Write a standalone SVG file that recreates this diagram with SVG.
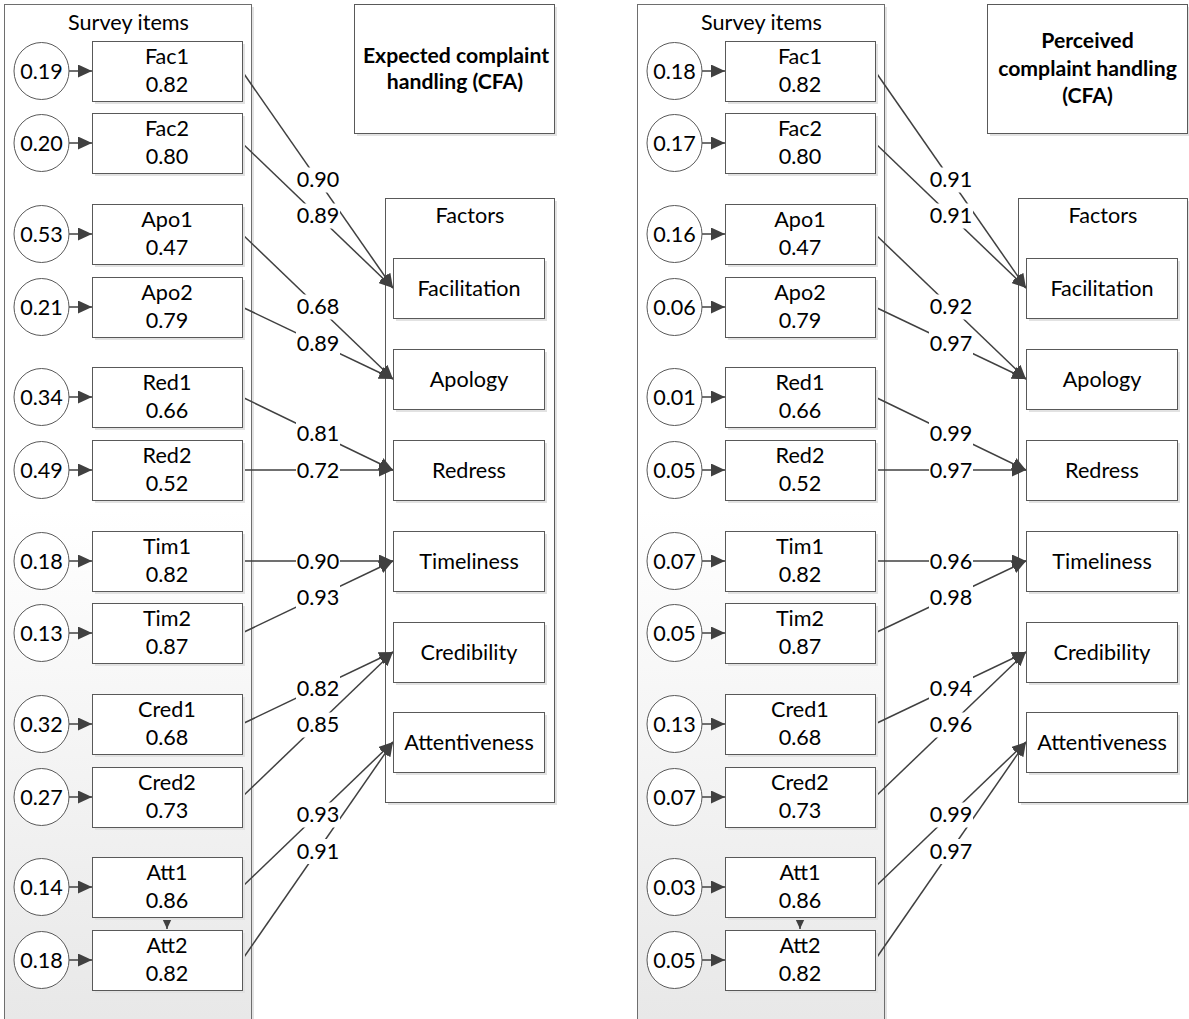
<svg xmlns="http://www.w3.org/2000/svg" width="1189" height="1019" viewBox="0 0 1189 1019">
  <defs>
    <linearGradient id="fade" gradientUnits="userSpaceOnUse" x1="0" y1="0" x2="0" y2="1019">
      <stop offset="0" stop-color="#ffffff"/>
      <stop offset="0.5" stop-color="#ffffff"/>
      <stop offset="1" stop-color="#e8e8e8"/>
    </linearGradient>
    <marker id="ah" markerUnits="userSpaceOnUse" viewBox="0 0 14 13" refX="14" refY="6.5" markerWidth="14" markerHeight="13" orient="auto">
      <path d="M0,0 L14,6.5 L0,13 z" fill="#404040"/>
    </marker>
  </defs>
  <style>
    .box { fill: #ffffff; stroke: #595959; stroke-width: 1; }
    .shd { fill: #e2e2e2; }
    .err { fill: #ffffff; stroke: #595959; stroke-width: 1; }
    .pane { fill: url(#fade); stroke: #6e6e6e; stroke-width: 1; }
    .ln { stroke: #404040; stroke-width: 1.5; fill: none; marker-end: url(#ah); }
    .lb { fill: #ffffff; }
    text { font-family: Lato, Carlito, "Liberation Sans", sans-serif; font-size: 21.6px; fill: #000000; text-anchor: middle; }
    .hd { font-weight: bold; font-size: 21.2px; }
  </style>

  <rect width="1189" height="1019" fill="#ffffff"/>

  <!-- ===== Expected complaint handling ===== -->
  <g id="expected">
    <g id="survey-items-e">
      <rect class="shd" x="7" y="7" width="247" height="1040"/>
      <rect class="pane" x="4.5" y="4.5" width="247" height="1040"/>
      <text x="128.5" y="30">Survey items</text>
    </g>
    <g id="title-e">
      <rect class="shd" x="357" y="7" width="200" height="129"/>
      <rect class="box" x="354.5" y="4.5" width="200" height="129"/>
      <text class="hd" x="456" y="63">Expected complaint</text>
      <text class="hd" x="455" y="89">handling (CFA)</text>
    </g>
    <g id="factors-e">
      <rect class="shd" x="388" y="201" width="169" height="604"/>
      <rect class="box" x="385.5" y="198.5" width="169" height="604"/>
      <text x="470" y="223">Factors</text>
    </g>

    <g id="connectors-e">
      <!-- error terms into items -->
      <line class="ln" x1="69" y1="71" x2="92" y2="71"/>
      <line class="ln" x1="69" y1="143" x2="92" y2="143"/>
      <line class="ln" x1="69" y1="234" x2="92" y2="234"/>
      <line class="ln" x1="69" y1="307" x2="92" y2="307"/>
      <line class="ln" x1="69" y1="397" x2="92" y2="397"/>
      <line class="ln" x1="69" y1="470" x2="92" y2="470"/>
      <line class="ln" x1="69" y1="561" x2="92" y2="561"/>
      <line class="ln" x1="69" y1="633" x2="92" y2="633"/>
      <line class="ln" x1="69" y1="724" x2="92" y2="724"/>
      <line class="ln" x1="69" y1="797" x2="92" y2="797"/>
      <line class="ln" x1="69" y1="887" x2="92" y2="887"/>
      <line class="ln" x1="69" y1="960" x2="92" y2="960"/>
      <!-- Att1 to Att2 -->
      <line class="ln" x1="167" y1="912" x2="167" y2="929"/>
      <!-- items to factors -->
      <line class="ln" x1="242" y1="71" x2="393" y2="288"/>
      <line class="ln" x1="242" y1="143" x2="393" y2="288"/>
      <line class="ln" x1="242" y1="234" x2="393" y2="379"/>
      <line class="ln" x1="242" y1="307" x2="393" y2="379"/>
      <line class="ln" x1="242" y1="397" x2="393" y2="470"/>
      <line class="ln" x1="242" y1="470" x2="393" y2="470"/>
      <line class="ln" x1="242" y1="561" x2="393" y2="561"/>
      <line class="ln" x1="242" y1="633" x2="393" y2="561"/>
      <line class="ln" x1="242" y1="724" x2="393" y2="652"/>
      <line class="ln" x1="242" y1="797" x2="393" y2="652"/>
      <line class="ln" x1="242" y1="887" x2="393" y2="742"/>
      <line class="ln" x1="242" y1="960" x2="393" y2="742"/>
      <!-- loadings -->
      <rect class="lb" x="296" y="167.5" width="44" height="25"/><text x="318" y="187">0.90</text>
      <rect class="lb" x="296" y="203.5" width="44" height="25"/><text x="318" y="223">0.89</text>
      <rect class="lb" x="296" y="294.5" width="44" height="25"/><text x="318" y="314">0.68</text>
      <rect class="lb" x="296" y="331" width="44" height="25"/><text x="318" y="350.5">0.89</text>
      <rect class="lb" x="296" y="421.5" width="44" height="25"/><text x="318" y="441">0.81</text>
      <rect class="lb" x="296" y="458" width="44" height="25"/><text x="318" y="477.5">0.72</text>
      <rect class="lb" x="296" y="549" width="44" height="25"/><text x="318" y="568.5">0.90</text>
      <rect class="lb" x="296" y="585" width="44" height="25"/><text x="318" y="604.5">0.93</text>
      <rect class="lb" x="296" y="676" width="44" height="25"/><text x="318" y="695.5">0.82</text>
      <rect class="lb" x="296" y="712.5" width="44" height="25"/><text x="318" y="732">0.85</text>
      <rect class="lb" x="296" y="802.5" width="44" height="25"/><text x="318" y="822">0.93</text>
      <rect class="lb" x="296" y="839" width="44" height="25"/><text x="318" y="858.5">0.91</text>
    </g>

    <!-- factor nodes -->
    <g id="facilitation-e"><rect class="shd" x="396" y="261" width="151" height="60"/><rect class="box" x="393.5" y="258.5" width="151" height="60"/><text x="469" y="295.5">Facilitation</text></g>
    <g id="apology-e"><rect class="shd" x="396" y="352" width="151" height="60"/><rect class="box" x="393.5" y="349.5" width="151" height="60"/><text x="469" y="386.5">Apology</text></g>
    <g id="redress-e"><rect class="shd" x="396" y="443" width="151" height="60"/><rect class="box" x="393.5" y="440.5" width="151" height="60"/><text x="469" y="477.5">Redress</text></g>
    <g id="timeliness-e"><rect class="shd" x="396" y="534" width="151" height="60"/><rect class="box" x="393.5" y="531.5" width="151" height="60"/><text x="469" y="568.5">Timeliness</text></g>
    <g id="credibility-e"><rect class="shd" x="396" y="625" width="151" height="60"/><rect class="box" x="393.5" y="622.5" width="151" height="60"/><text x="469" y="659.5">Credibility</text></g>
    <g id="attentiveness-e"><rect class="shd" x="396" y="715" width="151" height="60"/><rect class="box" x="393.5" y="712.5" width="151" height="60"/><text x="469" y="749.5">Attentiveness</text></g>

    <!-- survey item nodes -->
    <g id="fac1-e"><rect class="shd" x="95" y="44" width="150" height="60"/><rect class="box" x="92.5" y="41.5" width="150" height="60"/><text x="167" y="64">Fac1</text><text x="167" y="92">0.82</text></g>
    <g id="fac2-e"><rect class="shd" x="95" y="116" width="150" height="60"/><rect class="box" x="92.5" y="113.5" width="150" height="60"/><text x="167" y="136">Fac2</text><text x="167" y="164">0.80</text></g>
    <g id="apo1-e"><rect class="shd" x="95" y="207" width="150" height="60"/><rect class="box" x="92.5" y="204.5" width="150" height="60"/><text x="167" y="227">Apo1</text><text x="167" y="255">0.47</text></g>
    <g id="apo2-e"><rect class="shd" x="95" y="280" width="150" height="60"/><rect class="box" x="92.5" y="277.5" width="150" height="60"/><text x="167" y="300">Apo2</text><text x="167" y="328">0.79</text></g>
    <g id="red1-e"><rect class="shd" x="95" y="370" width="150" height="60"/><rect class="box" x="92.5" y="367.5" width="150" height="60"/><text x="167" y="390">Red1</text><text x="167" y="418">0.66</text></g>
    <g id="red2-e"><rect class="shd" x="95" y="443" width="150" height="60"/><rect class="box" x="92.5" y="440.5" width="150" height="60"/><text x="167" y="463">Red2</text><text x="167" y="491">0.52</text></g>
    <g id="tim1-e"><rect class="shd" x="95" y="534" width="150" height="60"/><rect class="box" x="92.5" y="531.5" width="150" height="60"/><text x="167" y="554">Tim1</text><text x="167" y="582">0.82</text></g>
    <g id="tim2-e"><rect class="shd" x="95" y="606" width="150" height="60"/><rect class="box" x="92.5" y="603.5" width="150" height="60"/><text x="167" y="626">Tim2</text><text x="167" y="654">0.87</text></g>
    <g id="cred1-e"><rect class="shd" x="95" y="697" width="150" height="60"/><rect class="box" x="92.5" y="694.5" width="150" height="60"/><text x="167" y="717">Cred1</text><text x="167" y="745">0.68</text></g>
    <g id="cred2-e"><rect class="shd" x="95" y="770" width="150" height="60"/><rect class="box" x="92.5" y="767.5" width="150" height="60"/><text x="167" y="790">Cred2</text><text x="167" y="818">0.73</text></g>
    <g id="att1-e"><rect class="shd" x="95" y="860" width="150" height="60"/><rect class="box" x="92.5" y="857.5" width="150" height="60"/><text x="167" y="880">Att1</text><text x="167" y="908">0.86</text></g>
    <g id="att2-e"><rect class="shd" x="95" y="933" width="150" height="60"/><rect class="box" x="92.5" y="930.5" width="150" height="60"/><text x="167" y="953">Att2</text><text x="167" y="981">0.82</text></g>

    <!-- error terms -->
    <g id="e-fac1-e"><ellipse class="err" cx="41.5" cy="71" rx="27.5" ry="28.5"/><text x="41.5" y="78.5">0.19</text></g>
    <g id="e-fac2-e"><ellipse class="err" cx="41.5" cy="143" rx="27.5" ry="28.5"/><text x="41.5" y="150.5">0.20</text></g>
    <g id="e-apo1-e"><ellipse class="err" cx="41.5" cy="234" rx="27.5" ry="28.5"/><text x="41.5" y="241.5">0.53</text></g>
    <g id="e-apo2-e"><ellipse class="err" cx="41.5" cy="307" rx="27.5" ry="28.5"/><text x="41.5" y="314.5">0.21</text></g>
    <g id="e-red1-e"><ellipse class="err" cx="41.5" cy="397" rx="27.5" ry="28.5"/><text x="41.5" y="404.5">0.34</text></g>
    <g id="e-red2-e"><ellipse class="err" cx="41.5" cy="470" rx="27.5" ry="28.5"/><text x="41.5" y="477.5">0.49</text></g>
    <g id="e-tim1-e"><ellipse class="err" cx="41.5" cy="561" rx="27.5" ry="28.5"/><text x="41.5" y="568.5">0.18</text></g>
    <g id="e-tim2-e"><ellipse class="err" cx="41.5" cy="633" rx="27.5" ry="28.5"/><text x="41.5" y="640.5">0.13</text></g>
    <g id="e-cred1-e"><ellipse class="err" cx="41.5" cy="724" rx="27.5" ry="28.5"/><text x="41.5" y="731.5">0.32</text></g>
    <g id="e-cred2-e"><ellipse class="err" cx="41.5" cy="797" rx="27.5" ry="28.5"/><text x="41.5" y="804.5">0.27</text></g>
    <g id="e-att1-e"><ellipse class="err" cx="41.5" cy="887" rx="27.5" ry="28.5"/><text x="41.5" y="894.5">0.14</text></g>
    <g id="e-att2-e"><ellipse class="err" cx="41.5" cy="960" rx="27.5" ry="28.5"/><text x="41.5" y="967.5">0.18</text></g>
  </g>

  <!-- ===== Perceived complaint handling ===== -->
  <g id="perceived" transform="translate(633,0)">
    <g id="survey-items-p">
      <rect class="shd" x="7" y="7" width="247" height="1040"/>
      <rect class="pane" x="4.5" y="4.5" width="247" height="1040"/>
      <text x="128.5" y="30">Survey items</text>
    </g>
    <g id="title-p">
      <rect class="shd" x="357" y="7" width="200" height="129"/>
      <rect class="box" x="354.5" y="4.5" width="200" height="129"/>
      <text class="hd" x="454.5" y="48">Perceived</text>
      <text class="hd" x="454.5" y="76">complaint handling</text>
      <text class="hd" x="454.5" y="103">(CFA)</text>
    </g>
    <g id="factors-p">
      <rect class="shd" x="388" y="201" width="169" height="604"/>
      <rect class="box" x="385.5" y="198.5" width="169" height="604"/>
      <text x="470" y="223">Factors</text>
    </g>

    <g id="connectors-p">
      <line class="ln" x1="69" y1="71" x2="92" y2="71"/>
      <line class="ln" x1="69" y1="143" x2="92" y2="143"/>
      <line class="ln" x1="69" y1="234" x2="92" y2="234"/>
      <line class="ln" x1="69" y1="307" x2="92" y2="307"/>
      <line class="ln" x1="69" y1="397" x2="92" y2="397"/>
      <line class="ln" x1="69" y1="470" x2="92" y2="470"/>
      <line class="ln" x1="69" y1="561" x2="92" y2="561"/>
      <line class="ln" x1="69" y1="633" x2="92" y2="633"/>
      <line class="ln" x1="69" y1="724" x2="92" y2="724"/>
      <line class="ln" x1="69" y1="797" x2="92" y2="797"/>
      <line class="ln" x1="69" y1="887" x2="92" y2="887"/>
      <line class="ln" x1="69" y1="960" x2="92" y2="960"/>
      <line class="ln" x1="167" y1="912" x2="167" y2="929"/>
      <line class="ln" x1="242" y1="71" x2="393" y2="288"/>
      <line class="ln" x1="242" y1="143" x2="393" y2="288"/>
      <line class="ln" x1="242" y1="234" x2="393" y2="379"/>
      <line class="ln" x1="242" y1="307" x2="393" y2="379"/>
      <line class="ln" x1="242" y1="397" x2="393" y2="470"/>
      <line class="ln" x1="242" y1="470" x2="393" y2="470"/>
      <line class="ln" x1="242" y1="561" x2="393" y2="561"/>
      <line class="ln" x1="242" y1="633" x2="393" y2="561"/>
      <line class="ln" x1="242" y1="724" x2="393" y2="652"/>
      <line class="ln" x1="242" y1="797" x2="393" y2="652"/>
      <line class="ln" x1="242" y1="887" x2="393" y2="742"/>
      <line class="ln" x1="242" y1="960" x2="393" y2="742"/>
      <rect class="lb" x="296" y="167.5" width="44" height="25"/><text x="318" y="187">0.91</text>
      <rect class="lb" x="296" y="203.5" width="44" height="25"/><text x="318" y="223">0.91</text>
      <rect class="lb" x="296" y="294.5" width="44" height="25"/><text x="318" y="314">0.92</text>
      <rect class="lb" x="296" y="331" width="44" height="25"/><text x="318" y="350.5">0.97</text>
      <rect class="lb" x="296" y="421.5" width="44" height="25"/><text x="318" y="441">0.99</text>
      <rect class="lb" x="296" y="458" width="44" height="25"/><text x="318" y="477.5">0.97</text>
      <rect class="lb" x="296" y="549" width="44" height="25"/><text x="318" y="568.5">0.96</text>
      <rect class="lb" x="296" y="585" width="44" height="25"/><text x="318" y="604.5">0.98</text>
      <rect class="lb" x="296" y="676" width="44" height="25"/><text x="318" y="695.5">0.94</text>
      <rect class="lb" x="296" y="712.5" width="44" height="25"/><text x="318" y="732">0.96</text>
      <rect class="lb" x="296" y="802.5" width="44" height="25"/><text x="318" y="822">0.99</text>
      <rect class="lb" x="296" y="839" width="44" height="25"/><text x="318" y="858.5">0.97</text>
    </g>

    <g id="facilitation-p"><rect class="shd" x="396" y="261" width="151" height="60"/><rect class="box" x="393.5" y="258.5" width="151" height="60"/><text x="469" y="295.5">Facilitation</text></g>
    <g id="apology-p"><rect class="shd" x="396" y="352" width="151" height="60"/><rect class="box" x="393.5" y="349.5" width="151" height="60"/><text x="469" y="386.5">Apology</text></g>
    <g id="redress-p"><rect class="shd" x="396" y="443" width="151" height="60"/><rect class="box" x="393.5" y="440.5" width="151" height="60"/><text x="469" y="477.5">Redress</text></g>
    <g id="timeliness-p"><rect class="shd" x="396" y="534" width="151" height="60"/><rect class="box" x="393.5" y="531.5" width="151" height="60"/><text x="469" y="568.5">Timeliness</text></g>
    <g id="credibility-p"><rect class="shd" x="396" y="625" width="151" height="60"/><rect class="box" x="393.5" y="622.5" width="151" height="60"/><text x="469" y="659.5">Credibility</text></g>
    <g id="attentiveness-p"><rect class="shd" x="396" y="715" width="151" height="60"/><rect class="box" x="393.5" y="712.5" width="151" height="60"/><text x="469" y="749.5">Attentiveness</text></g>

    <g id="fac1-p"><rect class="shd" x="95" y="44" width="150" height="60"/><rect class="box" x="92.5" y="41.5" width="150" height="60"/><text x="167" y="64">Fac1</text><text x="167" y="92">0.82</text></g>
    <g id="fac2-p"><rect class="shd" x="95" y="116" width="150" height="60"/><rect class="box" x="92.5" y="113.5" width="150" height="60"/><text x="167" y="136">Fac2</text><text x="167" y="164">0.80</text></g>
    <g id="apo1-p"><rect class="shd" x="95" y="207" width="150" height="60"/><rect class="box" x="92.5" y="204.5" width="150" height="60"/><text x="167" y="227">Apo1</text><text x="167" y="255">0.47</text></g>
    <g id="apo2-p"><rect class="shd" x="95" y="280" width="150" height="60"/><rect class="box" x="92.5" y="277.5" width="150" height="60"/><text x="167" y="300">Apo2</text><text x="167" y="328">0.79</text></g>
    <g id="red1-p"><rect class="shd" x="95" y="370" width="150" height="60"/><rect class="box" x="92.5" y="367.5" width="150" height="60"/><text x="167" y="390">Red1</text><text x="167" y="418">0.66</text></g>
    <g id="red2-p"><rect class="shd" x="95" y="443" width="150" height="60"/><rect class="box" x="92.5" y="440.5" width="150" height="60"/><text x="167" y="463">Red2</text><text x="167" y="491">0.52</text></g>
    <g id="tim1-p"><rect class="shd" x="95" y="534" width="150" height="60"/><rect class="box" x="92.5" y="531.5" width="150" height="60"/><text x="167" y="554">Tim1</text><text x="167" y="582">0.82</text></g>
    <g id="tim2-p"><rect class="shd" x="95" y="606" width="150" height="60"/><rect class="box" x="92.5" y="603.5" width="150" height="60"/><text x="167" y="626">Tim2</text><text x="167" y="654">0.87</text></g>
    <g id="cred1-p"><rect class="shd" x="95" y="697" width="150" height="60"/><rect class="box" x="92.5" y="694.5" width="150" height="60"/><text x="167" y="717">Cred1</text><text x="167" y="745">0.68</text></g>
    <g id="cred2-p"><rect class="shd" x="95" y="770" width="150" height="60"/><rect class="box" x="92.5" y="767.5" width="150" height="60"/><text x="167" y="790">Cred2</text><text x="167" y="818">0.73</text></g>
    <g id="att1-p"><rect class="shd" x="95" y="860" width="150" height="60"/><rect class="box" x="92.5" y="857.5" width="150" height="60"/><text x="167" y="880">Att1</text><text x="167" y="908">0.86</text></g>
    <g id="att2-p"><rect class="shd" x="95" y="933" width="150" height="60"/><rect class="box" x="92.5" y="930.5" width="150" height="60"/><text x="167" y="953">Att2</text><text x="167" y="981">0.82</text></g>

    <g id="e-fac1-p"><ellipse class="err" cx="41.5" cy="71" rx="27.5" ry="28.5"/><text x="41.5" y="78.5">0.18</text></g>
    <g id="e-fac2-p"><ellipse class="err" cx="41.5" cy="143" rx="27.5" ry="28.5"/><text x="41.5" y="150.5">0.17</text></g>
    <g id="e-apo1-p"><ellipse class="err" cx="41.5" cy="234" rx="27.5" ry="28.5"/><text x="41.5" y="241.5">0.16</text></g>
    <g id="e-apo2-p"><ellipse class="err" cx="41.5" cy="307" rx="27.5" ry="28.5"/><text x="41.5" y="314.5">0.06</text></g>
    <g id="e-red1-p"><ellipse class="err" cx="41.5" cy="397" rx="27.5" ry="28.5"/><text x="41.5" y="404.5">0.01</text></g>
    <g id="e-red2-p"><ellipse class="err" cx="41.5" cy="470" rx="27.5" ry="28.5"/><text x="41.5" y="477.5">0.05</text></g>
    <g id="e-tim1-p"><ellipse class="err" cx="41.5" cy="561" rx="27.5" ry="28.5"/><text x="41.5" y="568.5">0.07</text></g>
    <g id="e-tim2-p"><ellipse class="err" cx="41.5" cy="633" rx="27.5" ry="28.5"/><text x="41.5" y="640.5">0.05</text></g>
    <g id="e-cred1-p"><ellipse class="err" cx="41.5" cy="724" rx="27.5" ry="28.5"/><text x="41.5" y="731.5">0.13</text></g>
    <g id="e-cred2-p"><ellipse class="err" cx="41.5" cy="797" rx="27.5" ry="28.5"/><text x="41.5" y="804.5">0.07</text></g>
    <g id="e-att1-p"><ellipse class="err" cx="41.5" cy="887" rx="27.5" ry="28.5"/><text x="41.5" y="894.5">0.03</text></g>
    <g id="e-att2-p"><ellipse class="err" cx="41.5" cy="960" rx="27.5" ry="28.5"/><text x="41.5" y="967.5">0.05</text></g>
  </g>
</svg>
